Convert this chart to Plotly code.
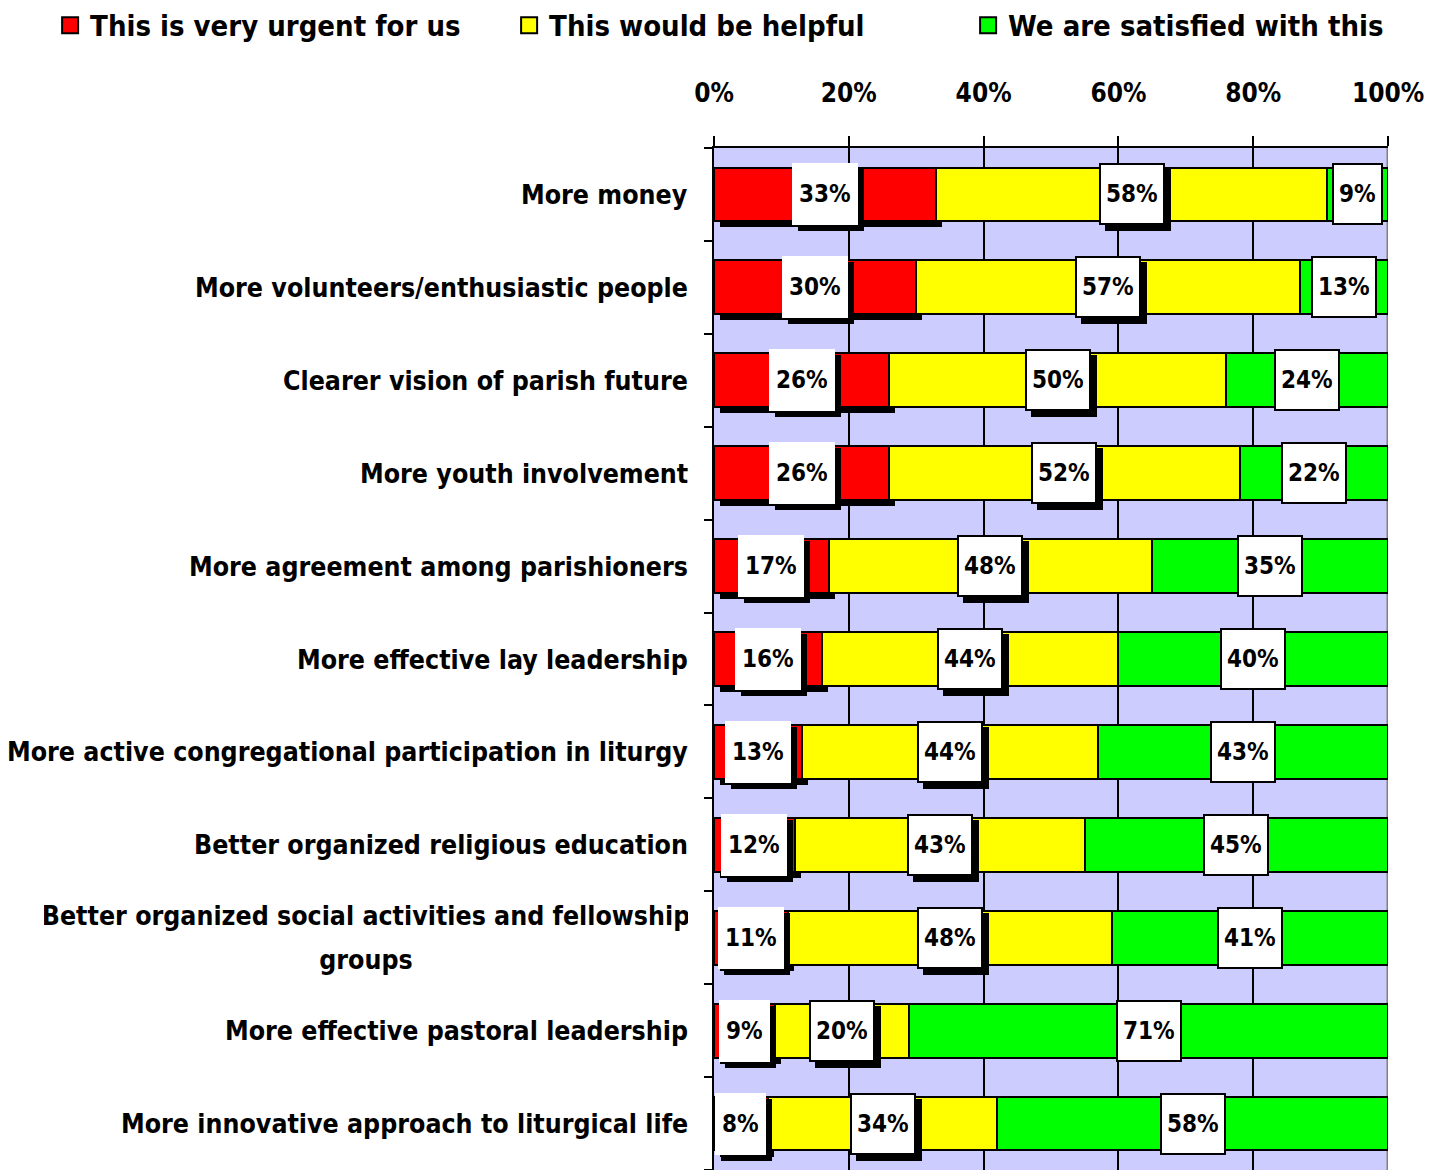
import plotly.graph_objects as go

# Survey items, listed top to bottom
categories = [
    "More money",
    "More volunteers/enthusiastic people",
    "Clearer vision of parish future",
    "More youth involvement",
    "More agreement among parishioners",
    "More effective lay leadership",
    "More active congregational participation in liturgy",
    "Better organized religious education",
    "Better organized social activities and fellowship<br>groups",
    "More effective pastoral leadership",
    "More innovative approach to liturgical life",
]

# Share of responses (%) per answer
urgent = [33, 30, 26, 26, 17, 16, 13, 12, 11, 9, 8]
helpful = [58, 57, 50, 52, 48, 44, 44, 43, 48, 20, 34]
satisfied = [9, 13, 24, 22, 35, 40, 43, 45, 41, 71, 58]

series_names = [
    "This is very urgent for us",
    "This would be helpful",
    "We are satisfied with this",
]
tick_values = [0, 20, 40, 60, 80, 100]
tick_labels = ["0%", "20%", "40%", "60%", "80%", "100%"]

# Styling
COLORS = ["#FF0000", "#FFFF00", "#00FF00"]
BG = "#CCCCFF"
FONT = "DejaVu Sans Condensed, DejaVu Sans, sans-serif"
BAR_W = 0.58
SHADOW_DX = 0.9      # shadow offset along x, in percent units
SHADOW_DY = 0.065    # shadow offset along y, in category units
SHADOW_PX = 6
LINE_GAP = 44        # px between lines of a wrapped category label
WRAP_WIDTH = 644     # px box shared by the lines of a wrapped label

pos = list(range(len(categories)))
base_helpful = [u for u in urgent]
base_satisfied = [u + h for u, h in zip(urgent, helpful)]

fig = go.Figure()

# Drop shadow under the "urgent" bars
fig.add_trace(go.Bar(
    y=[p + SHADOW_DY for p in pos], x=urgent, base=[SHADOW_DX] * len(pos),
    orientation="h", width=BAR_W, marker=dict(color="black", line=dict(width=0)),
    showlegend=False, hoverinfo="skip",
))

for vals, bases, color, name in zip(
    [urgent, helpful, satisfied],
    [[0] * len(pos), base_helpful, base_satisfied],
    COLORS, series_names,
):
    fig.add_trace(go.Bar(
        y=pos, x=vals, base=bases, orientation="h", width=BAR_W, name=name,
        marker=dict(color=color, line=dict(color="black", width=2)),
        showlegend=False,
    ))
    # legend entry with a larger square swatch
    fig.add_trace(go.Scatter(
        x=[None], y=[None], mode="markers", name=name,
        marker=dict(symbol="square", size=20, color=color,
                    line=dict(color="black", width=2)),
    ))

annotations = []

# Value labels: white boxes centred in each segment
label_font = dict(family=FONT, size=24, color="black", weight="bold")
for vals, bases, style in zip(
    [urgent, helpful, satisfied],
    [[0] * len(pos), base_helpful, base_satisfied],
    ["plain", "boxed_shadow", "boxed"],
):
    for p, v, b in zip(pos, vals, bases):
        cx = b + v / 2
        txt = f"{v}%"
        common = dict(x=cx, y=p, xref="x", yref="y", text=txt, showarrow=False,
                      height=48, borderpad=5, xanchor="center", yanchor="middle")
        if style in ("plain", "boxed_shadow"):
            annotations.append(dict(common, font=label_font, bgcolor="black",
                                    bordercolor="black", borderwidth=2,
                                    xshift=SHADOW_PX, yshift=-SHADOW_PX))
        if style == "plain":
            annotations.append(dict(common, font=label_font, bgcolor="white",
                                    borderwidth=2, bordercolor="white"))
        else:
            annotations.append(dict(common, font=label_font, bgcolor="white",
                                    bordercolor="black", borderwidth=2))

# Category labels to the left of the plot (wrapped lines centred on each other)
cat_font = dict(family=FONT, size=26.5, color="black", weight="bold")
for p, c in zip(pos, categories):
    lines = c.split("<br>")
    n = len(lines)
    for i, line in enumerate(lines):
        shift = ((n - 1) / 2 - i) * LINE_GAP
        ann = dict(
            x=0, y=p, xref="paper", yref="y", text=line, showarrow=False,
            xanchor="right", yanchor="middle", xshift=-24, yshift=shift,
            font=cat_font,
        )
        if n > 1:
            ann.update(width=WRAP_WIDTH, align="center")
        annotations.append(ann)

fig.update_layout(
    width=1442, height=1170,
    margin=dict(l=714, r=54, t=148, b=0, autoexpand=False),
    paper_bgcolor="white", plot_bgcolor=BG,
    barmode="overlay", bargap=0,
    annotations=annotations,
    legend=dict(
        orientation="h", xref="paper", yref="paper",
        x=-0.985, y=1.145, xanchor="left", yanchor="top",
        font=dict(family=FONT, size=29, color="black", weight="bold"),
        entrywidth=414, itemsizing="trace",
    ),
    xaxis=dict(
        range=[0, 100], side="top", tickvals=tick_values, ticktext=tick_labels,
        showgrid=True, gridcolor="black", gridwidth=2, zeroline=False,
        ticks="outside", ticklen=10, tickwidth=2, tickcolor="black",
        showline=True, linecolor="black", linewidth=2,
        tickfont=dict(family=FONT, size=26, color="black", weight="bold"),
        ticklabelstandoff=24, fixedrange=True, automargin=False,
    ),
    yaxis=dict(
        range=[len(pos) - 0.5, -0.5],
        tickvals=[p - 0.5 for p in pos] + [len(pos) - 0.5],
        showticklabels=False, showgrid=False, zeroline=False,
        ticks="outside", ticklen=8, tickwidth=2, tickcolor="black",
        showline=True, linecolor="black", linewidth=2, fixedrange=True,
        automargin=False,
    ),
    shapes=[dict(type="line", xref="x", yref="y", x0=100, x1=100,
                 y0=-0.5, y1=len(pos) - 0.5, line=dict(color="#808080", width=3),
                 layer="between")],
)

fig.write_html("out.html")
